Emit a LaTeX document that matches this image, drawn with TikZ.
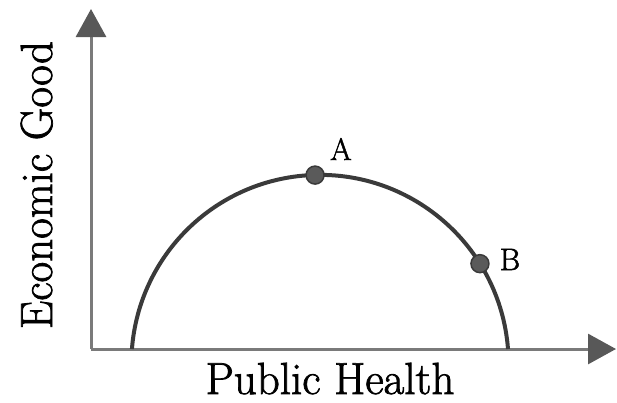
\documentclass[tikz,border=0pt]{standalone}
\usepackage{fontspec}
\newfontfamily\lmheavy{Latin Modern Roman}[FakeBold=1.6]
\usetikzlibrary{arrows.meta,calc}
\definecolor{axisgray}{HTML}{7A7A7A}
\definecolor{tipgray}{HTML}{585858}
\definecolor{curvegray}{HTML}{3A3A3A}
\definecolor{dotgray}{HTML}{5A5A5A}
\tikzset{
  axisline/.style={draw=axisgray, line width=3pt,
    -{Triangle[length=28pt,width=30pt,fill=tipgray,color=tipgray]}},
  curveline/.style={draw=curvegray, line width=4pt},
  dot/.style={circle, fill=dotgray, draw=curvegray, line width=1.5pt,
    minimum size=18pt, inner sep=0pt},
  ptlabel/.style={font=\lmheavy\fontsize{31}{33}\selectfont, text=black, inner sep=0pt},
  axlabel/.style={font=\lmheavy\fontsize{45}{47}\selectfont, text=black, inner sep=0pt}
}
\begin{document}
\begin{tikzpicture}[x=1pt,y=-1pt]
\useasboundingbox (0,0) rectangle (617,402);
\coordinate (O) at (91,349);
\coordinate (ytip) at (91,9);
\coordinate (xtip) at (616,349);
\draw[axisline] (O) -- (ytip);
\draw[axisline] (O) -- (xtip);
\coordinate (C) at (320,363.6);
\draw[curveline] (508,349) arc[start angle=-4.4, end angle=-175.6, radius=188.6];
\node[dot] (A) at ($(C)+(-91.5:188.6)$) {};
\node[dot] (B) at ($(C)+(-32:188.6)$) {};
\node[ptlabel, anchor=base] (Alab) at (341,160) {A};
\node[ptlabel, anchor=base] (Blab) at (510,270) {B};
\node[axlabel, anchor=base] (xl) at (330,394) {Public Health};
\node[axlabel, anchor=base, rotate=90] (yl) at (52,185) {Economic Good};
\end{tikzpicture}
\end{document}
